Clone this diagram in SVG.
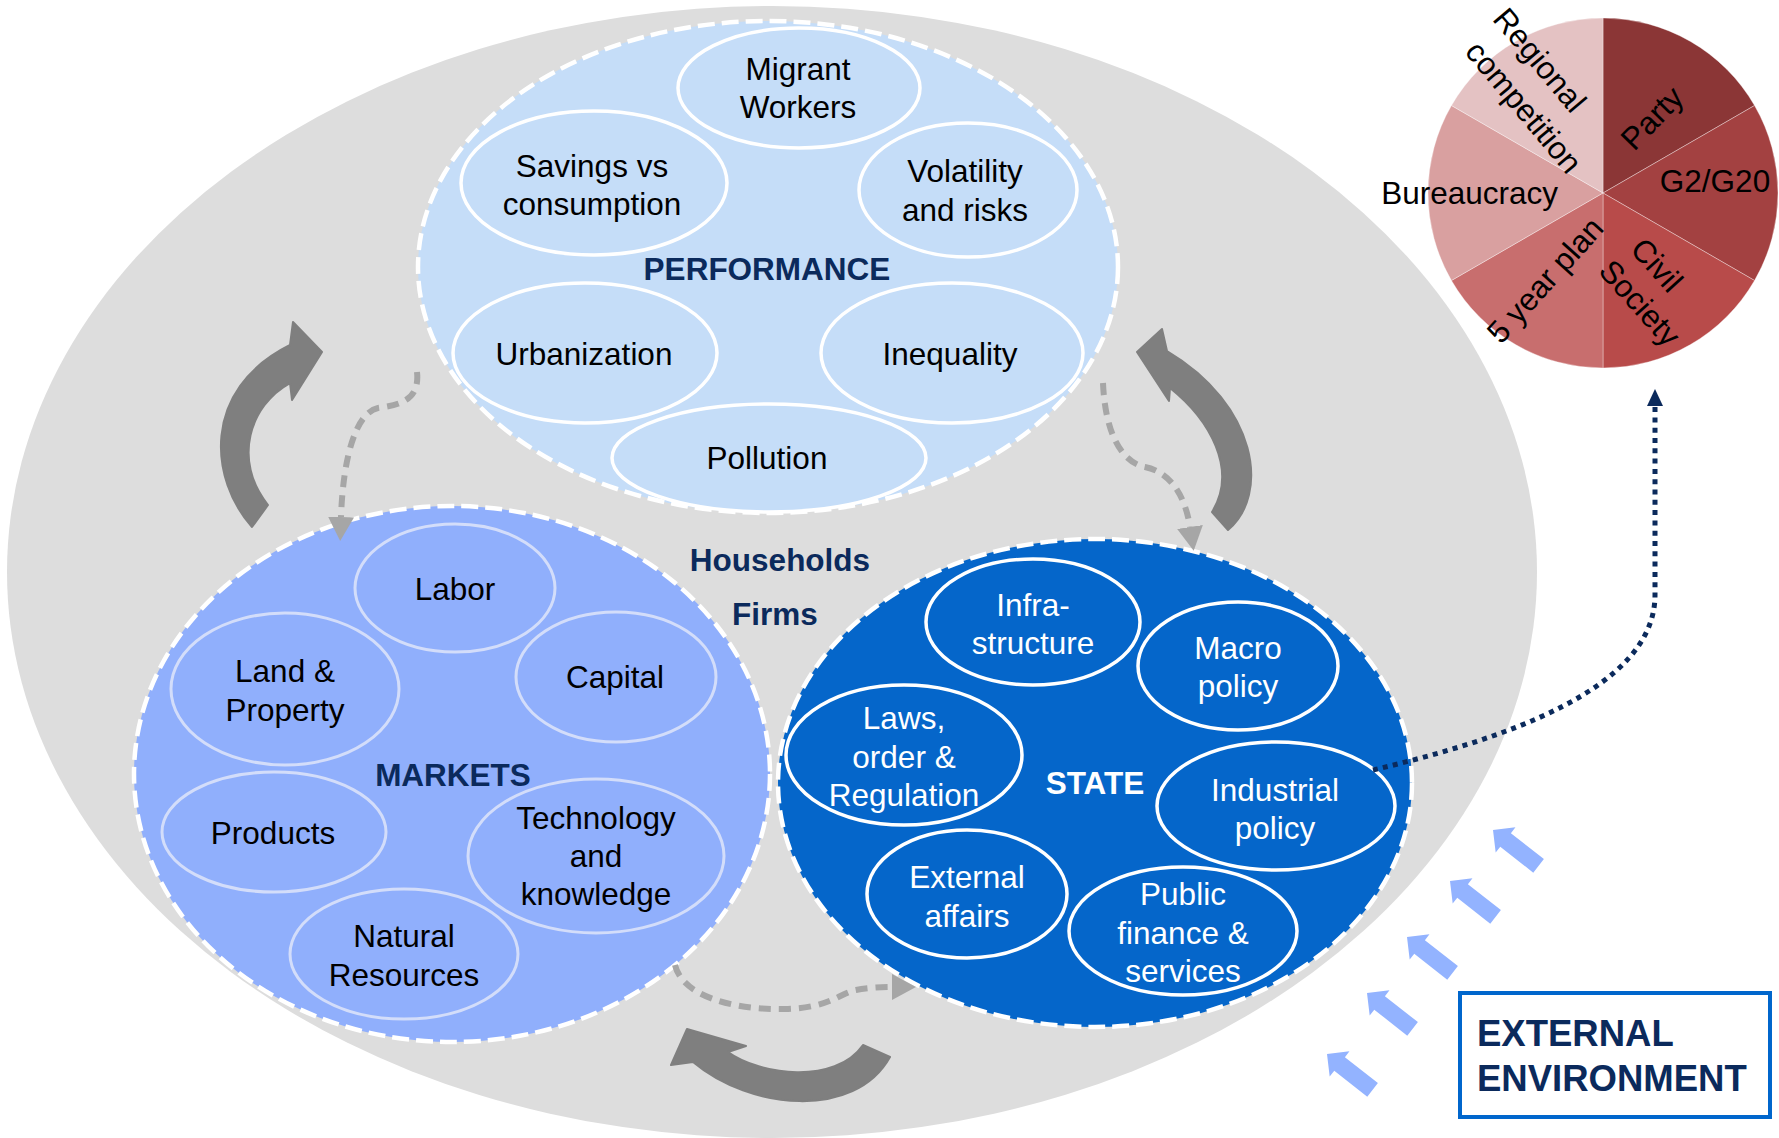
<svg xmlns="http://www.w3.org/2000/svg" width="1779" height="1138" viewBox="0 0 1779 1138">
  <style>
    .t{font-family:"Liberation Sans",Arial,Helvetica,sans-serif;font-size:31.5px;text-anchor:middle}
    .k{fill:#000}
    .w{fill:#fff}
    .hd{font-weight:bold;fill:#0B2A5C}
    .hw{font-weight:bold;fill:#fff}
    .ring{stroke:#fff;stroke-width:4.5;stroke-dasharray:17 7}
    .pe{fill:#C5DDF8;stroke:#fff;stroke-width:3.5}
    .me{fill:#90AFFC;stroke:#D3DDFA;stroke-width:3}
    .se{fill:#0566CA;stroke:#fff;stroke-width:3.5}
    .dash{fill:none;stroke:#A6A6A6;stroke-width:6;stroke-dasharray:12 8}
    .cyc{fill:#7F7F7F;stroke:#7F7F7F;stroke-width:2;stroke-linejoin:round}
    .sep{stroke:#fff;stroke-opacity:0.35;stroke-width:1}
  </style>
  <defs>
    <marker id="headGray" markerUnits="userSpaceOnUse" viewBox="0 0 24 26" markerWidth="24" markerHeight="26" refX="0" refY="13" orient="auto">
      <path d="M0 0 L24 13 L0 26 Z" fill="#A6A6A6"/>
    </marker>
    <marker id="headNavy" markerUnits="userSpaceOnUse" viewBox="0 0 17 16" markerWidth="17" markerHeight="16" refX="0" refY="8" orient="auto">
      <path d="M0 0 L17 8 L0 16 Z" fill="#0B2A5C"/>
    </marker>
    <path id="push" d="M0 0 L-16 -16 L-16 -8.6 L-58 -8.6 L-58 8.6 L-16 8.6 L-16 16 Z" fill="#93B3FF"/>
  </defs>

  <rect width="1779" height="1138" fill="#fff"/>

  <!-- economy background -->
  <ellipse id="economy" cx="772" cy="572" rx="765" ry="566" fill="#DDDDDD"/>

  <!-- performance -->
  <g id="performance">
    <ellipse cx="768" cy="267" rx="350" ry="246" fill="#C5DDF8" class="ring"/>
    <ellipse class="pe" cx="799" cy="88" rx="121" ry="60"/>
    <ellipse class="pe" cx="594" cy="183" rx="133" ry="72"/>
    <ellipse class="pe" cx="968" cy="190" rx="109" ry="67"/>
    <ellipse class="pe" cx="585" cy="353" rx="132" ry="70"/>
    <ellipse class="pe" cx="952" cy="353" rx="131" ry="70"/>
    <ellipse class="pe" cx="769" cy="458" rx="157" ry="54"/>
    <text class="t k"><tspan x="798" y="80">Migrant</tspan><tspan x="798" y="118">Workers</tspan></text>
    <text class="t k"><tspan x="592" y="177">Savings vs</tspan><tspan x="592" y="215">consumption</tspan></text>
    <text class="t k"><tspan x="965" y="182">Volatility</tspan><tspan x="965" y="221">and risks</tspan></text>
    <text class="t hd" x="767" y="280">PERFORMANCE</text>
    <text class="t k" x="584" y="365">Urbanization</text>
    <text class="t k" x="950" y="365">Inequality</text>
    <text class="t k" x="767" y="469">Pollution</text>
  </g>

  <!-- markets -->
  <g id="markets">
    <ellipse cx="452" cy="774" rx="318" ry="268" fill="#90AFFC" class="ring"/>
    <ellipse class="me" cx="455" cy="588" rx="100" ry="64"/>
    <ellipse class="me" cx="285" cy="689" rx="114" ry="76"/>
    <ellipse class="me" cx="616" cy="677" rx="100" ry="65"/>
    <ellipse class="me" cx="274" cy="832" rx="112" ry="60"/>
    <ellipse class="me" cx="596" cy="856" rx="128" ry="77"/>
    <ellipse class="me" cx="404" cy="954" rx="114" ry="65"/>
    <text class="t k" x="455" y="600">Labor</text>
    <text class="t k"><tspan x="285" y="682">Land &amp;</tspan><tspan x="285" y="721">Property</tspan></text>
    <text class="t k" x="615" y="688">Capital</text>
    <text class="t hd" x="453" y="786">MARKETS</text>
    <text class="t k" x="273" y="844">Products</text>
    <text class="t k"><tspan x="596" y="829">Technology</tspan><tspan x="596" y="867">and</tspan><tspan x="596" y="905">knowledge</tspan></text>
    <text class="t k"><tspan x="404" y="947">Natural</tspan><tspan x="404" y="986">Resources</tspan></text>
  </g>

  <!-- agents -->
  <g id="agents">
    <text class="t hd" x="780" y="571">Households</text>
    <text class="t hd" x="775" y="625">Firms</text>
  </g>

  <!-- state -->
  <g id="state">
    <ellipse cx="1095" cy="783" rx="317" ry="244" fill="#0566CA" class="ring"/>
    <ellipse class="se" cx="1033" cy="622" rx="107" ry="63"/>
    <ellipse class="se" cx="1238" cy="666" rx="100" ry="64"/>
    <ellipse class="se" cx="904" cy="755" rx="118" ry="70"/>
    <ellipse class="se" cx="1276" cy="806" rx="119" ry="64"/>
    <ellipse class="se" cx="967" cy="894" rx="100" ry="64"/>
    <ellipse class="se" cx="1183" cy="931" rx="114" ry="64"/>
    <text class="t w"><tspan x="1033" y="616">Infra-</tspan><tspan x="1033" y="654">structure</tspan></text>
    <text class="t w"><tspan x="1238" y="659">Macro</tspan><tspan x="1238" y="697">policy</tspan></text>
    <text class="t w"><tspan x="904" y="729">Laws,</tspan><tspan x="904" y="768">order &amp;</tspan><tspan x="904" y="806">Regulation</tspan></text>
    <text class="t hw" x="1095" y="794">STATE</text>
    <text class="t w"><tspan x="1275" y="801">Industrial</tspan><tspan x="1275" y="839">policy</tspan></text>
    <text class="t w"><tspan x="967" y="888">External</tspan><tspan x="967" y="927">affairs</tspan></text>
    <text class="t w"><tspan x="1183" y="905">Public</tspan><tspan x="1183" y="944">finance &amp;</tspan><tspan x="1183" y="982">services</tspan></text>
  </g>

  <!-- political economy pie -->
  <g id="politics">
    <path d="M1603 193 L1603 18 A175 175 0 0 1 1754.55 105.5 Z" fill="#8B3636" class="sep"/>
    <path d="M1603 193 L1754.55 105.5 A175 175 0 0 1 1754.55 280.5 Z" fill="#A34141" class="sep"/>
    <path d="M1603 193 L1754.55 280.5 A175 175 0 0 1 1603 368 Z" fill="#B84B4A" class="sep"/>
    <path d="M1603 193 L1603 368 A175 175 0 0 1 1451.45 280.5 Z" fill="#C86E6E" class="sep"/>
    <path d="M1603 193 L1451.45 280.5 A175 175 0 0 1 1451.45 105.5 Z" fill="#D9A0A0" class="sep"/>
    <path d="M1603 193 L1451.45 105.5 A175 175 0 0 1 1603 18 Z" fill="#E4C2C3" class="sep"/>
    <text class="t k" transform="translate(1652 118) rotate(-46)" y="11">Party</text>
    <text class="t k" x="1715" y="192">G2/G20</text>
    <text class="t k" transform="translate(1657 265) rotate(48)" y="11">Civil</text>
    <text class="t k" transform="translate(1640 303) rotate(48)" y="11">Society</text>
    <text class="t k" transform="translate(1545 280) rotate(-48)" y="11">5 year plan</text>
    <text class="t k" x="1558" y="204" style="text-anchor:end">Bureaucracy</text>
    <text class="t k" transform="translate(1540 60) rotate(50)" y="11">Regional</text>
    <text class="t k" transform="translate(1524 107) rotate(50)" y="11">competition</text>
  </g>

  <!-- links and cycle arrows -->
  <g id="connectors">
    <path class="dash" d="M417 372 C420 400 400 405 378 408 C355 413 343 460 341 517" marker-end="url(#headGray)"/>
    <path class="dash" d="M1103 383 C1105 430 1120 462 1145 467 C1170 472 1185 495 1190 527" marker-end="url(#headGray)"/>
    <path class="dash" d="M675 965 C682 995 730 1010 785 1009 C830 1008 840 993 856 990 C866 988 880 987 892 987" marker-end="url(#headGray)"/>
    <path d="M1373 770 C1500 740 1655 690 1655 595 L1655 406" fill="none" stroke="#0B2A5C" stroke-width="5" stroke-dasharray="5 5.3" marker-end="url(#headNavy)"/>
    <path class="cyc" d="M252 527 C210 480 200 390 290 345 L293 322 L322 352 L292 400 L290 383 C250 405 232 460 268 505 Z"/>
    <path class="cyc" d="M1137 352 L1162 329 L1167 351 C1258 405 1270 495 1228 530 L1212 512 C1238 470 1210 420 1170 388 L1169 401 Z"/>
    <path class="cyc" d="M671 1065 L687 1029 L746 1046 L728 1052 C760 1075 835 1085 863 1045 L890 1057 C855 1120 750 1110 693 1062 Z"/>
  </g>

  <!-- external pressures -->
  <g id="pressures">
    <use href="#push" transform="translate(1493 830) rotate(-141.8)"/>
    <use href="#push" transform="translate(1450 881) rotate(-141.8)"/>
    <use href="#push" transform="translate(1407 937) rotate(-141.8)"/>
    <use href="#push" transform="translate(1367 993) rotate(-141.8)"/>
    <use href="#push" transform="translate(1327 1054) rotate(-141.8)"/>
  </g>

  <g id="external">
    <rect x="1460" y="993" width="310" height="124" fill="#fff" stroke="#0066CC" stroke-width="4"/>
    <text class="hd" style="font-family:'Liberation Sans',Arial,sans-serif;font-size:36.5px"><tspan x="1477" y="1046">EXTERNAL</tspan><tspan x="1477" y="1091">ENVIRONMENT</tspan></text>
  </g>
</svg>
